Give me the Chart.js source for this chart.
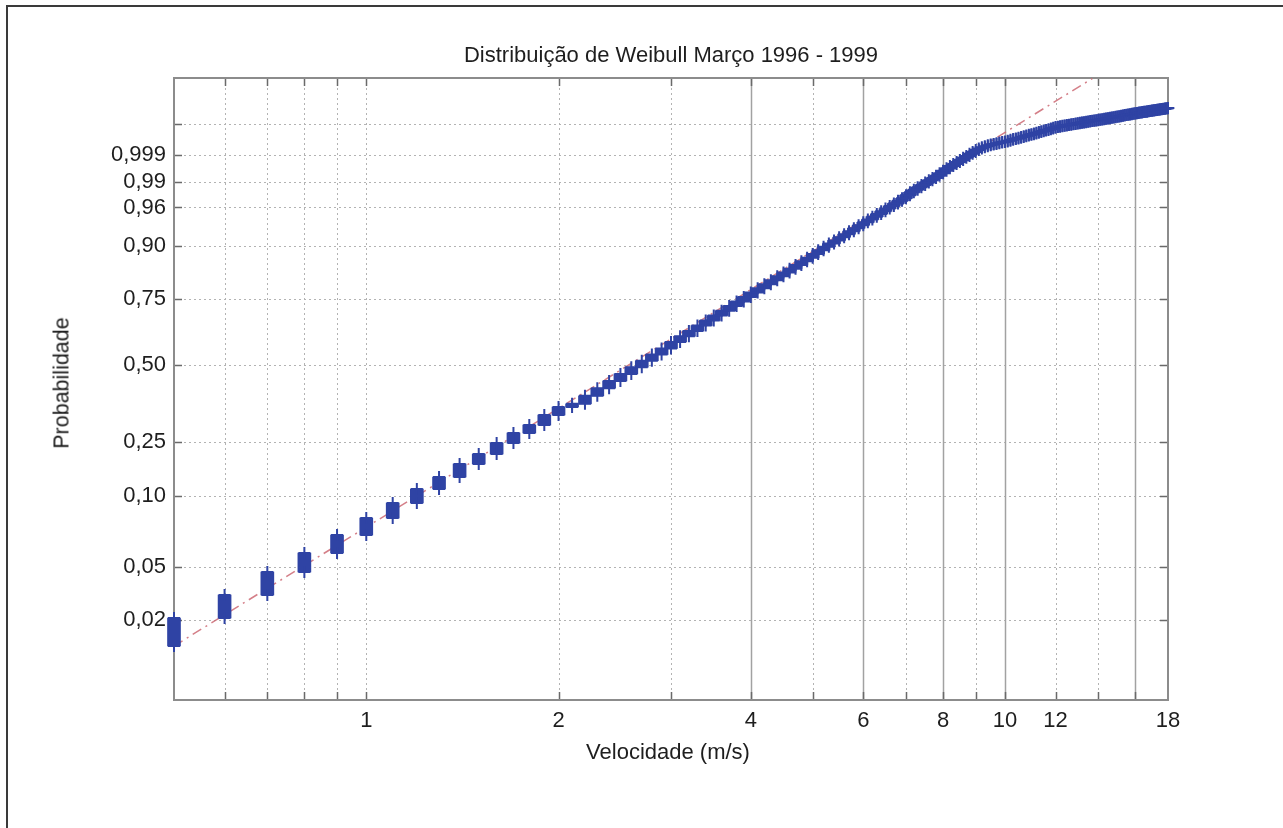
<!DOCTYPE html>
<html>
<head>
<meta charset="utf-8">
<script src="https://cdn.jsdelivr.net/npm/chart.js@4.4.0/dist/chart.umd.min.js"></script>
<style>
  body { margin: 0; background: #fff; font-family: "Liberation Sans", Arial, sans-serif; }
  #wrap { position: relative; width: 1283px; height: 828px; overflow: hidden; }
  #frame { position: absolute; left: 6px; top: 5px; width: 1300px; height: 850px;
           border-left: 2px solid #3a3a3a; border-top: 2px solid #3a3a3a; }
  canvas { position: absolute; left: 0; top: 0; }
  .lbl { position: absolute; color: #1e1e1e; font-size: 22px; white-space: nowrap;
         transform: translate(-50%, -50%); }
  #ytitle { transform: translate(-50%, -50%) rotate(-90deg); font-size: 21.5px; }
</style>
</head>
<body>
<div id="wrap">
  <div id="frame"></div>
  <canvas id="chart" width="1283" height="828"></canvas>
  <div class="lbl" style="left:671px; top:55px;">Distribuição de Weibull Março 1996 - 1999</div>
  <div class="lbl" style="left:668px; top:752px;">Velocidade (m/s)</div>
  <div class="lbl" id="ytitle" style="left:62px; top:383px;">Probabilidade</div>
</div>
<script>
// Wind speed classes (m/s), one group of observations per 0.1 m/s
const speeds = [
  0.5, 0.6, 0.7, 0.8, 0.9, 1.0, 1.1, 1.2, 1.3, 1.4,
  1.5, 1.6, 1.7, 1.8, 1.9, 2.0, 2.1, 2.2, 2.3, 2.4,
  2.5, 2.6, 2.7, 2.8, 2.9, 3.0, 3.1, 3.2, 3.3, 3.4,
  3.5, 3.6, 3.7, 3.8, 3.9, 4.0, 4.1, 4.2, 4.3, 4.4,
  4.5, 4.6, 4.7, 4.8, 4.9, 5.0, 5.1, 5.2, 5.3, 5.4,
  5.5, 5.6, 5.7, 5.8, 5.9, 6.0, 6.1, 6.2, 6.3, 6.4,
  6.5, 6.6, 6.7, 6.8, 6.9, 7.0, 7.1, 7.2, 7.3, 7.4,
  7.5, 7.6, 7.7, 7.8, 7.9, 8.0, 8.1, 8.2, 8.3, 8.4,
  8.5, 8.6, 8.7, 8.8, 8.9, 9.0, 9.1, 9.2, 9.3, 9.4,
  9.5, 9.6, 9.7, 9.8, 9.9, 10.0, 10.1, 10.2, 10.3, 10.4,
  10.5, 10.6, 10.7, 10.8, 10.9, 11.0, 11.1, 11.2, 11.3, 11.4,
  11.5, 11.6, 11.7, 11.8, 11.9, 12.0, 12.1, 12.2, 12.3, 12.4,
  12.5, 12.6, 12.7, 12.8, 12.9, 13.0, 13.1, 13.2, 13.3, 13.4,
  13.5, 13.6, 13.7, 13.8, 13.9, 14.0, 14.1, 14.2, 14.3, 14.4,
  14.5, 14.6, 14.7, 14.8, 14.9, 15.0, 15.1, 15.2, 15.3, 15.4,
  15.5, 15.6, 15.7, 15.8, 15.9, 16.0, 16.1, 16.2, 16.3, 16.4,
  16.5, 16.6, 16.7, 16.8, 16.9, 17.0, 17.1, 17.2, 17.3, 17.4,
  17.5, 17.6, 17.7, 17.8, 17.9, 18.0
];

// Cumulative probability in Weibull plotting units, ln(-ln(1-F)).
// First value is where the 0.5 m/s group starts, then the top of each group.
const cumReduced = [
  -4.943,
  -4.574, -4.271, -3.968, -3.718, -3.481, -3.257, -3.059, -2.875, -2.717, -2.545,
  -2.414, -2.269, -2.137, -2.032, -1.900, -1.795, -1.753, -1.648, -1.547, -1.451,
  -1.359, -1.270, -1.185, -1.103, -1.024, -0.937, -0.863, -0.792, -0.722, -0.655,
  -0.589, -0.526, -0.464, -0.404, -0.345, -0.288, -0.232, -0.178, -0.124, -0.072,
  -0.022, 0.028, 0.077, 0.124, 0.171, 0.222, 0.271, 0.315, 0.358, 0.400,
  0.442, 0.482, 0.522, 0.561, 0.600, 0.638, 0.675, 0.712, 0.748, 0.784,
  0.819, 0.853, 0.887, 0.921, 0.954, 0.996, 1.033, 1.067, 1.101, 1.131,
  1.162, 1.192, 1.221, 1.250, 1.284, 1.318, 1.350, 1.379, 1.406, 1.434,
  1.460, 1.487, 1.513, 1.540, 1.565, 1.590, 1.612, 1.628, 1.641, 1.652,
  1.662, 1.671, 1.680, 1.688, 1.696, 1.704, 1.714, 1.724, 1.734, 1.743,
  1.753, 1.762, 1.772, 1.781, 1.790, 1.799, 1.808, 1.818, 1.827, 1.836,
  1.846, 1.855, 1.864, 1.874, 1.883, 1.892, 1.898, 1.903, 1.909, 1.914,
  1.919, 1.924, 1.929, 1.934, 1.939, 1.944, 1.948, 1.953, 1.957, 1.962,
  1.966, 1.971, 1.975, 1.979, 1.984, 1.988, 1.992, 1.997, 2.001, 2.006,
  2.010, 2.014, 2.019, 2.023, 2.028, 2.032, 2.036, 2.041, 2.045, 2.050,
  2.054, 2.058, 2.063, 2.067, 2.072, 2.076, 2.079, 2.083, 2.086, 2.090,
  2.093, 2.096, 2.100, 2.103, 2.107, 2.110, 2.114, 2.117, 2.121, 2.124,
  2.128, 2.131, 2.135, 2.138, 2.142, 2.145
];

// Fitted Weibull reference line (dash-dot), end points
const fitSpeed = [0.5, 13.7];
const fitReduced = [-4.943, 2.532];

// Horizontal grid lines (probabilities) and the labels printed beside them
const gridProbs = [0.01, 0.02, 0.05, 0.10, 0.25, 0.50, 0.75, 0.90, 0.96, 0.99, 0.999];
const yTickLabels = ['0,02', '0,05', '0,10', '0,25', '0,50', '0,75', '0,90', '0,96', '0,99', '0,999', ''];

// Vertical grid lines and x tick labels
const xGrid = [0.6, 0.7, 0.8, 0.9, 1, 2, 3, 4, 5, 6, 7, 8, 9, 10, 12, 14, 16];
const xSolid = [4, 6, 8, 10, 16];
const xTickValues = [1, 2, 4, 6, 8, 10, 12, 18];

const xRange = [0.5, 18];
const yRange = [-5.654, 2.539];

const blue = '#2f43a4';

function reduced(p) {
    return Math.log(-Math.log(1 - p));
}

// Draw the MATLAB style box, grid and inward ticks under the data
const axesPlugin = {
    id: 'matlabAxes',
    beforeDatasetsDraw(chart) {
        const { ctx, chartArea: a, scales: { x, y } } = chart;
        ctx.save();

        // horizontal dotted grid
        ctx.lineWidth = 1;
        ctx.strokeStyle = '#b3b3b3';
        ctx.setLineDash([2, 3]);
        gridProbs.forEach(p => {
            const py = Math.round(y.getPixelForValue(reduced(p))) + 0.5;
            ctx.beginPath();
            ctx.moveTo(a.left, py);
            ctx.lineTo(a.right, py);
            ctx.stroke();
        });

        // vertical grid, some lines solid
        xGrid.forEach(v => {
            const px = Math.round(x.getPixelForValue(v)) + 0.5;
            if (xSolid.includes(v)) {
                ctx.setLineDash([]);
                ctx.strokeStyle = '#a2a2a2';
                ctx.lineWidth = 1.5;
            } else {
                ctx.setLineDash([2, 3]);
                ctx.strokeStyle = '#b3b3b3';
                ctx.lineWidth = 1;
            }
            ctx.beginPath();
            ctx.moveTo(px, a.top);
            ctx.lineTo(px, a.bottom);
            ctx.stroke();
        });

        // inward tick marks
        ctx.setLineDash([]);
        ctx.strokeStyle = '#6a6a6a';
        ctx.lineWidth = 1.5;
        const tl = 8;
        gridProbs.forEach(p => {
            const py = Math.round(y.getPixelForValue(reduced(p))) + 0.5;
            ctx.beginPath();
            ctx.moveTo(a.left, py); ctx.lineTo(a.left + tl, py);
            ctx.moveTo(a.right, py); ctx.lineTo(a.right - tl, py);
            ctx.stroke();
        });
        xGrid.forEach(v => {
            const px = Math.round(x.getPixelForValue(v)) + 0.5;
            ctx.beginPath();
            ctx.moveTo(px, a.bottom); ctx.lineTo(px, a.bottom - tl);
            ctx.moveTo(px, a.top); ctx.lineTo(px, a.top + tl);
            ctx.stroke();
        });

        // box
        ctx.strokeStyle = '#8c8c8c';
        ctx.lineWidth = 2;
        ctx.strokeRect(a.left, a.top, a.right - a.left, a.bottom - a.top);
        ctx.restore();
    }
};

Chart.defaults.font.family = '"Liberation Sans", Arial, sans-serif';
Chart.defaults.font.size = 22;
Chart.defaults.color = '#1e1e1e';

const ctx = document.getElementById('chart').getContext('2d');
new Chart(ctx, {
    type: 'bar',
    data: {
        datasets: [
            {
                type: 'line',
                data: fitSpeed.map((v, i) => ({ x: v, y: fitReduced[i] })),
                borderColor: 'rgba(205, 105, 115, 0.85)',
                borderWidth: 1.5,
                borderDash: [10, 5, 2, 5],
                pointRadius: 0,
                fill: false,
                order: 3
            },
            {
                type: 'bar',
                data: speeds.map((v, i) => ({ x: v, y: [cumReduced[i], cumReduced[i + 1]] })),
                backgroundColor: blue,
                borderWidth: 0,
                barThickness: 13,
                clip: false,
                order: 2
            },
            {
                type: 'scatter',
                data: speeds.map((v, i) => ({ x: v, y: cumReduced[i] })),
                pointStyle: 'cross',
                pointRadius: 6,
                pointBorderWidth: 2,
                pointBorderColor: blue,
                clip: false,
                order: 1
            },
            {
                type: 'scatter',
                data: speeds.map((v, i) => ({ x: v, y: cumReduced[i + 1] })),
                pointStyle: 'cross',
                pointRadius: 6,
                pointBorderWidth: 2,
                pointBorderColor: blue,
                clip: false,
                order: 1
            }
        ]
    },
    options: {
        responsive: false,
        animation: false,
        devicePixelRatio: 1,
        layout: {
            padding: { left: 0, top: 78, right: 115, bottom: 88 }
        },
        plugins: {
            legend: { display: false },
            tooltip: { enabled: false },
            title: { display: false }
        },
        scales: {
            x: {
                type: 'logarithmic',
                min: xRange[0],
                max: xRange[1],
                bounds: 'data',
                offset: false,
                grid: { display: false, offset: false },
                border: { display: false },
                afterBuildTicks: scale => {
                    scale.ticks = xTickValues.map(v => ({ value: v }));
                },
                afterFit: scale => { scale.height = 40; },
                ticks: {
                    autoSkip: false,
                    maxRotation: 0,
                    padding: 0,
                    callback: value => String(value)
                }
            },
            y: {
                type: 'linear',
                min: yRange[0],
                max: yRange[1],
                bounds: 'data',
                grid: { display: false },
                border: { display: false },
                afterBuildTicks: scale => {
                    scale.ticks = gridProbs.map(p => ({ value: reduced(p) }));
                },
                afterFit: scale => { scale.width = 174; },
                ticks: {
                    autoSkip: false,
                    padding: 0,
                    callback: (value, index) => yTickLabels[index]
                }
            }
        }
    },
    plugins: [axesPlugin]
});
</script>
</body>
</html>
